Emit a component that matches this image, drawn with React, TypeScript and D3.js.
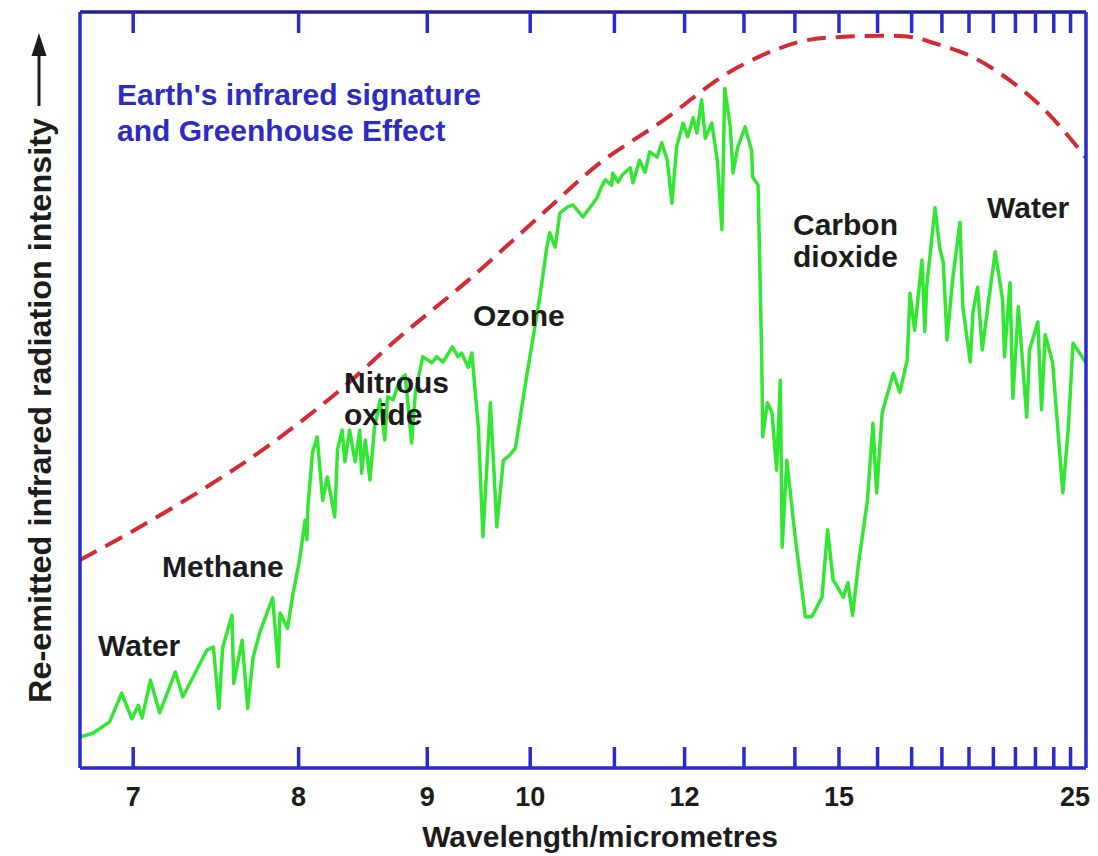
import React from "react";
import * as d3 from "d3";

// Outgoing infrared spectrum: [wavenumber cm^-1, relative intensity %]
const emissionSpectrum: [number, number][] = [
  [1486, 4.1], [1472, 4.6], [1454, 6.1], [1441, 9.9], [1430, 6.5], [1423, 8.3], [1419, 6.6],
  [1410, 11.6], [1400, 7.3], [1383, 12.7], [1375, 9.4], [1349, 15.6], [1342, 16.0], [1336, 7.9],
  [1332, 15.9], [1322, 20.2], [1320, 11.2], [1311, 16.9], [1305, 7.9], [1299, 14.7], [1292, 17.9],
  [1278, 22.5], [1272, 13.4], [1270, 20.5], [1262, 18.5], [1256, 23.1], [1249, 27.5], [1243, 32.8],
  [1241, 30.2], [1240, 34.5], [1235, 41.7], [1230, 43.8], [1224, 35.4], [1219, 38.5], [1211, 33.2],
  [1208, 42.1], [1203, 44.7], [1200, 40.5], [1195, 44.7], [1189, 40.5], [1184, 44.7], [1182, 39.0],
  [1178, 43.4], [1173, 38.1], [1168, 45.1], [1162, 48.7], [1157, 43.4], [1154, 49.1], [1148, 48.7],
  [1141, 51.3], [1135, 52.0], [1128, 43.0], [1124, 49.6], [1116, 54.4], [1106, 53.6], [1101, 54.4],
  [1094, 53.7], [1084, 55.7], [1078, 54.4], [1074, 54.9], [1067, 53.0], [1063, 54.9], [1056, 45.1],
  [1051, 30.6], [1043, 48.3], [1036, 31.9], [1029, 40.7], [1022, 41.4], [1016, 42.3], [1004, 51.7],
  [989, 62.8], [982, 68.9], [979, 70.8], [973, 68.9], [968, 73.4], [960, 74.2], [954, 74.5],
  [943, 72.9], [935, 74.2], [928, 75.4], [923, 76.9], [919, 77.8], [912, 77.1], [911, 78.7],
  [905, 77.5], [901, 78.4], [892, 79.4], [889, 77.4], [882, 80.4], [876, 78.8], [871, 81.5],
  [863, 80.8], [858, 82.7], [852, 80.4], [847, 74.7], [842, 82.1], [835, 85.3], [830, 83.5],
  [824, 86.0], [820, 84.0], [815, 88.4], [811, 83.3], [804, 85.3], [798, 80.4], [793, 71.2],
  [790, 89.9], [784, 84.8], [781, 78.7], [776, 82.1], [768, 84.8], [761, 81.7], [760, 78.2],
  [754, 77.1], [750, 54.0], [749, 43.8], [744, 48.3], [739, 47.0], [734, 39.4], [730, 51.3],
  [728, 29.2], [723, 40.7], [714, 30.6], [703, 20.0], [696, 20.0], [685, 22.6], [679, 31.5],
  [673, 24.9], [662, 22.6], [657, 24.5], [652, 20.2], [646, 26.6], [636, 35.4], [630, 45.6],
  [626, 36.4], [620, 47.0], [608, 52.2], [601, 49.7], [593, 54.0], [590, 62.8], [585, 57.9],
  [577, 67.2], [574, 57.7], [572, 63.6], [563, 74.1], [558, 68.9], [554, 66.8], [550, 56.6],
  [544, 64.6], [536, 72.2], [533, 61.0], [525, 53.7], [522, 60.3], [517, 63.6], [512, 55.3],
  [506, 61.0], [498, 68.3], [490, 61.9], [488, 54.4], [482, 64.2], [479, 48.9], [473, 61.0],
  [464, 46.4], [461, 55.3], [452, 59.0], [448, 47.4], [444, 57.3], [436, 53.6], [425, 36.4],
  [419, 45.1], [414, 56.2], [400, 53.6],
];

// Blackbody envelope: [wavenumber cm^-1, relative intensity %]
const blackbodyCurve: [number, number][] = [
  [1486, 27.5], [1421, 31.9], [1349, 37.2], [1284, 42.5], [1209, 49.6], [1141, 57.0],
  [1068, 64.4], [986, 73.4], [925, 80.0], [857, 85.6], [783, 92.2], [711, 96.0], [665, 96.7],
  [589, 96.7], [567, 96.0], [520, 93.9], [473, 90.1], [441, 86.6], [409, 82.1], [400, 80.7],
];

// Wavelength ticks (micrometres)
const tickWavelengths = [7, 8, 9, 10, 11, 12, 13, 14, 15, 16, 17, 18, 19, 20, 21, 22, 23, 24];
const labelledWavelengths = [7, 8, 9, 10, 12, 15, 25];

const W = 1098;
const H = 856;
const plot = { left: 80, right: 1086, top: 12, bottom: 768 };

const FONT = "'Liberation Sans', Arial, Helvetica, sans-serif";
const FRAME = "#2a2ad2";
const INK = "#1c1c1c";

export default function App() {
  // horizontal axis is linear in wavenumber; ticks are placed at 1e4/wavelength
  const x = d3.scaleLinear().domain([1486, 400]).range([plot.left, plot.right]);
  const y = d3.scaleLinear().domain([0, 100]).range([plot.bottom, plot.top]);
  const xw = (lambda: number) => x(1e4 / lambda);

  const spectrumLine = d3
    .line<[number, number]>()
    .x((d) => x(d[0]))
    .y((d) => y(d[1]))
    .curve(d3.curveLinear);

  const envelopeLine = d3
    .line<[number, number]>()
    .x((d) => x(d[0]))
    .y((d) => y(d[1]))
    .curve(d3.curveCatmullRom);

  const tickLen = 21;

  const gasLabel = (lines: string[], lx: number, ly: number, key: string) => (
    <text key={key} x={lx} y={ly} fontFamily={FONT} fontWeight="bold" fontSize={30} fill={INK}>
      {lines.map((t, i) => (
        <tspan key={i} x={lx} dy={i === 0 ? 0 : 32}>
          {t}
        </tspan>
      ))}
    </text>
  );

  return (
    <div style={{ position: "absolute", left: 0, top: 0 }}>
      <svg width={W} height={H} viewBox={`0 0 ${W} ${H}`} style={{ display: "block", background: "#fff" }}>
        <defs>
          <clipPath id="plot-area">
            <rect x={plot.left} y={plot.top} width={plot.right - plot.left} height={plot.bottom - plot.top} />
          </clipPath>
        </defs>

        {/* blackbody envelope */}
        <path
          d={envelopeLine(blackbodyCurve) || ""}
          fill="none"
          stroke="#d42a32"
          strokeWidth={4}
          strokeDasharray="19 10"
          clipPath="url(#plot-area)"
        />

        {/* measured emission spectrum */}
        <path
          d={spectrumLine(emissionSpectrum) || ""}
          fill="none"
          stroke="#33e633"
          strokeWidth={3.5}
          strokeLinejoin="round"
          clipPath="url(#plot-area)"
        />

        {/* frame */}
        <line x1={plot.left} x2={plot.right} y1={plot.top} y2={plot.top} stroke="#22228a" strokeWidth={3.5} />
        <line x1={plot.left} x2={plot.right} y1={plot.bottom} y2={plot.bottom} stroke={FRAME} strokeWidth={3.5} />
        <line x1={plot.left} x2={plot.left} y1={plot.top} y2={plot.bottom} stroke={FRAME} strokeWidth={3.5} />
        <line x1={plot.right} x2={plot.right} y1={plot.top} y2={plot.bottom} stroke={FRAME} strokeWidth={3.5} />

        {/* inward ticks, top and bottom */}
        {tickWavelengths.map((w) => (
          <g key={w}>
            <line x1={xw(w)} x2={xw(w)} y1={plot.top} y2={plot.top + tickLen} stroke={FRAME} strokeWidth={3.5} />
            <line x1={xw(w)} x2={xw(w)} y1={plot.bottom} y2={plot.bottom - tickLen} stroke={FRAME} strokeWidth={3.5} />
          </g>
        ))}

        {/* tick labels */}
        {labelledWavelengths.map((w) => {
          const px = xw(w);
          const last = px > plot.right - 10;
          return (
            <text
              key={w}
              x={last ? plot.right + 4 : px}
              y={806}
              textAnchor={last ? "end" : "middle"}
              fontFamily={FONT}
              fontWeight="bold"
              fontSize={27}
              fill={INK}
            >
              {w}
            </text>
          );
        })}

        {/* axis titles */}
        <text x={600} y={847} textAnchor="middle" fontFamily={FONT} fontWeight="bold" fontSize={30} fill={INK}>
          Wavelength/micrometres
        </text>
        <text
          transform="translate(51,703) rotate(-90)"
          fontFamily={FONT}
          fontWeight="bold"
          fontSize={31}
          textLength={585}
          lengthAdjust="spacingAndGlyphs"
          fill={INK}
        >
          Re-emitted infrared radiation intensity
        </text>
        <line x1={39} x2={39} y1={106} y2={50} stroke={INK} strokeWidth={3} />
        <path d="M39,33 L31.5,56 L46.5,56 Z" fill={INK} />

        {/* chart title */}
        <text x={117} y={105} fontFamily={FONT} fontWeight="bold" fontSize={30} fill="#2c2cc4">
          <tspan x={117}>Earth's infrared signature</tspan>
          <tspan x={117} dy={36}>and Greenhouse Effect</tspan>
        </text>

        {/* absorber annotations */}
        {gasLabel(["Water"], 98, 656, "w1")}
        {gasLabel(["Methane"], 162, 577, "ch4")}
        {gasLabel(["Nitrous", "oxide"], 344, 393, "n2o")}
        {gasLabel(["Ozone"], 473, 326, "o3")}
        {gasLabel(["Carbon", "dioxide"], 793, 235, "co2")}
        {gasLabel(["Water"], 987, 218, "w2")}
      </svg>
    </div>
  );
}
